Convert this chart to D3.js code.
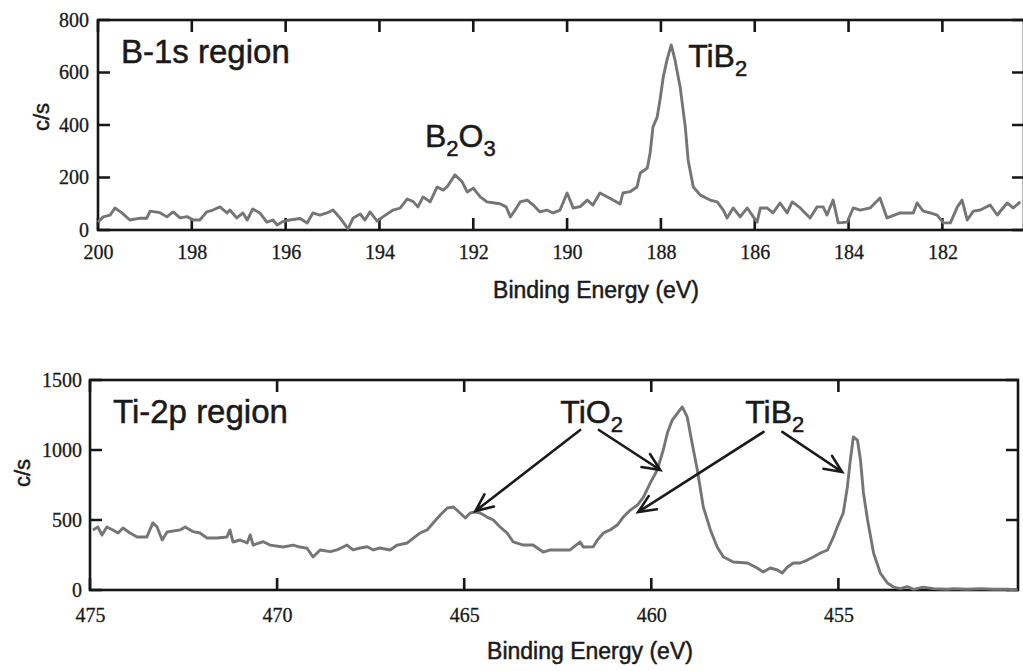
<!DOCTYPE html>
<html><head><meta charset="utf-8">
<script src="https://cdn.jsdelivr.net/npm/d3@7/dist/d3.min.js"></script>
<style>body{margin:0;background:#fff;overflow:hidden}</style>
</head><body>
<svg id="c" width="1023" height="671"></svg>
<script>
// ---------- DATA ----------
const b1sEnergy = [200.00,199.89,199.74,199.64,199.49,199.32,199.10,198.96,198.89,198.68,198.53,198.40,198.25,198.10,197.97,197.83,197.68,197.55,197.40,197.25,197.19,197.04,196.91,196.82,196.70,196.55,196.40,196.27,196.18,196.06,195.91,195.69,195.54,195.42,195.27,195.12,194.99,194.84,194.67,194.56,194.41,194.31,194.20,194.05,193.92,193.71,193.56,193.41,193.28,193.18,193.07,192.92,192.77,192.64,192.56,192.39,192.24,192.13,192.00,191.85,191.71,191.58,191.43,191.30,191.21,191.15,191.00,190.85,190.72,190.58,190.43,190.30,190.15,190.00,189.87,189.72,189.57,189.45,189.30,189.15,189.02,188.87,188.81,188.66,188.51,188.44,188.29,188.23,188.17,188.08,188.02,187.95,187.87,187.78,187.70,187.59,187.48,187.42,187.31,187.16,186.95,186.80,186.67,186.59,186.46,186.31,186.16,186.03,185.95,185.88,185.74,185.61,185.46,185.31,185.20,185.03,184.82,184.67,184.54,184.46,184.33,184.22,184.03,183.90,183.75,183.54,183.33,183.18,182.90,182.62,182.54,182.41,182.26,182.11,181.98,181.83,181.68,181.58,181.47,181.34,181.19,180.98,180.83,180.62,180.49,180.34];
const b1sCounts = [30,50,57,84,65,38,45,45,72,66,50,69,46,51,38,38,69,76,88,65,76,46,65,38,80,65,30,38,19,32,38,44,27,65,57,65,76,46,4,46,61,38,69,34,51,76,83,118,108,88,126,107,164,152,164,210,184,145,159,126,107,104,100,88,50,65,107,114,95,69,76,65,76,141,84,89,114,95,141,127,114,99,141,146,164,217,236,293,392,430,495,583,648,705,648,545,392,267,164,133,114,107,76,46,84,50,84,50,30,84,84,65,103,65,107,84,46,88,88,57,114,27,30,84,76,84,122,46,65,65,103,72,65,57,27,27,88,114,38,72,76,95,57,103,84,107];

const ti2pEnergy = [474.92,474.79,474.68,474.55,474.39,474.25,474.12,473.93,473.74,473.48,473.32,473.21,473.07,472.94,472.59,472.46,472.25,472.06,471.87,471.60,471.34,471.26,471.18,470.99,470.80,470.72,470.64,470.37,470.19,469.84,469.57,469.39,469.20,469.04,468.85,468.58,468.40,468.13,467.97,467.78,467.59,467.43,467.25,466.98,466.79,466.52,466.36,466.18,465.99,465.83,465.64,465.45,465.29,465.11,464.97,464.84,464.71,464.57,464.39,464.22,464.04,463.85,463.69,463.42,463.16,462.89,462.70,462.43,462.17,461.90,461.82,461.55,461.44,461.28,461.10,460.91,460.75,460.56,460.37,460.21,460.03,459.84,459.76,459.68,459.57,459.44,459.30,459.17,459.04,458.91,458.77,458.61,458.42,458.24,458.07,457.81,457.43,457.17,457.01,456.82,456.63,456.50,456.36,456.20,456.02,455.83,455.67,455.48,455.29,455.13,455.03,454.87,454.76,454.68,454.60,454.49,454.41,454.33,454.22,454.06,453.88,453.69,453.53,453.34,453.16,452.99,452.73,452.46,452.09,451.93,451.55,451.20,450.86,450.48,450.21];
const ti2pCounts = [429,450,393,450,429,407,443,407,379,379,479,452,357,414,429,450,417,407,371,371,379,429,343,357,336,393,321,345,321,307,321,307,298,236,286,274,286,321,286,300,309,286,300,286,321,336,371,407,429,479,536,586,593,550,514,550,557,550,521,500,450,407,343,321,321,271,286,286,286,343,307,309,357,407,429,464,521,571,607,664,764,857,929,1000,1121,1214,1264,1307,1236,1050,857,593,429,307,236,200,193,157,129,157,143,121,164,193,193,214,236,264,286,379,450,550,736,929,1093,1071,929,693,500,264,121,50,21,10,24,5,21,10,5,10,5,10,5,5,0];

const b1sXTicks = [200,198,196,194,192,190,188,186,184,182];
const b1sYTicks = [0,200,400,600,800];
const ti2pXTicks = [475,470,465,460,455];
const ti2pYTicks = [0,500,1000,1500];

// annotation arrows (data coords: [eV, c/s])
const ti2pArrowFrom = [[461.9,1143],[461.4,1143],[457.0,1129],[456.5,1129]];
const ti2pArrowTo   = [[464.7,564],[459.76,857],[460.35,557],[454.9,843]];

// ---------- DRAW ----------
const svg = d3.select("#c");
const lineColor = "#757575";
const axisColor = "#161616";
const serif = "'Liberation Serif','Times New Roman',serif";
const sans = "'Liberation Sans',Arial,sans-serif";

function styleText(sel){
  return sel.attr("fill","#1a1a1a").attr("stroke","#1a1a1a").attr("stroke-width",0.5);
}

function panel(o){
  const x = d3.scaleLinear().domain(o.xDomain).range([o.left,o.right]);
  const y = d3.scaleLinear().domain(o.yDomain).range([o.bottom,o.top]);
  const g = svg.append("g");
  const tl = 12;
  g.append("rect").attr("x",o.left).attr("y",o.top).attr("width",o.right-o.left).attr("height",o.bottom-o.top)
    .attr("fill","none").attr("stroke",axisColor).attr("stroke-width",2.6);
  const tp = d3.path();
  o.xTicks.forEach(v=>{
    tp.moveTo(x(v),o.bottom); tp.lineTo(x(v),o.bottom-tl);
    tp.moveTo(x(v),o.top); tp.lineTo(x(v),o.top+tl);
  });
  o.yTicks.forEach(v=>{
    tp.moveTo(o.left,y(v)); tp.lineTo(o.left+tl,y(v));
    tp.moveTo(o.right,y(v)); tp.lineTo(o.right-tl,y(v));
  });
  g.append("path").attr("class","ticks").attr("d",tp.toString()).attr("fill","none")
    .attr("stroke",axisColor).attr("stroke-width",2.6);
  const ax = g.append("g").attr("transform",`translate(0,${o.bottom})`)
    .call(d3.axisBottom(x).tickValues(o.xTicks).tickSize(0).tickPadding(o.xPad).tickFormat(d3.format("d")));
  const ay = g.append("g").attr("transform",`translate(${o.left},0)`)
    .call(d3.axisLeft(y).tickValues(o.yTicks).tickSize(0).tickPadding(o.yPad).tickFormat(d3.format("d")));
  [ax,ay].forEach(a=>{
    a.select(".domain").remove();
    a.selectAll(".tick line").remove();
    styleText(a.selectAll(".tick text")).style("font-family",serif).style("font-size","20px").attr("stroke-width",0.3);
  });
  const pts = o.energy.map((e,i)=>[e,o.counts[i]]);
  g.append("path").datum(pts)
    .attr("d",d3.line().x(d=>x(d[0])).y(d=>y(d[1])))
    .attr("fill","none").attr("stroke",lineColor).attr("stroke-width",2.9).attr("stroke-linejoin","round");
  styleText(g.append("text").attr("transform",`translate(${o.yTitleX},${(o.top+o.bottom)/2 - o.yTitleShift}) rotate(-90)`)
    .attr("text-anchor","middle").attr("dominant-baseline","central")
    .style("font-family",sans).style("font-size","22px")).text("c/s");
  styleText(g.append("text").attr("x",o.xTitleX).attr("y",o.xTitleY).attr("text-anchor","middle")
    .style("font-family",sans).style("font-size","23px")).text("Binding Energy (eV)");
  styleText(g.append("text").attr("x",o.left+o.regionDx).attr("y",o.regionY)
    .style("font-family",sans).style("font-size","33px")).text(o.region);
  return {x,y,g};
}

function chem(g,x,y,parts){
  const t = styleText(g.append("text").attr("x",x).attr("y",y)
    .style("font-family",sans).style("font-size","32px"));
  let shifted = false;
  parts.forEach(p=>{
    const s = t.append("tspan").text(p.t);
    if(p.sub){ s.attr("dy", shifted?0:9).style("font-size","22px"); shifted = true; }
    else { if(shifted) s.attr("dy",-9); shifted = false; }
  });
}

const panelB = panel({
  xDomain:[200,180.26], yDomain:[0,800], left:98, right:1024, top:20, bottom:230,
  energy:b1sEnergy, counts:b1sCounts, xTicks:b1sXTicks, yTicks:b1sYTicks,
  xPad:15, yPad:9, yTitleX:41, yTitleShift:8, xTitleX:596, xTitleY:298,
  region:"B-1s region", regionDx:23, regionY:63
});
chem(panelB.g, panelB.x(193.03), panelB.y(316), [{t:"B"},{t:"2",sub:true},{t:"O"},{t:"3",sub:true}]);
chem(panelB.g, panelB.x(187.42), panelB.y(621), [{t:"TiB"},{t:"2",sub:true}]);

const panelT = panel({
  xDomain:[475,450.2], yDomain:[0,1500], left:90, right:1018, top:380, bottom:590,
  energy:ti2pEnergy, counts:ti2pCounts, xTicks:ti2pXTicks, yTicks:ti2pYTicks,
  xPad:18, yPad:8, yTitleX:22, yTitleShift:12, xTitleX:590, xTitleY:659,
  region:"Ti-2p region", regionDx:23, regionY:423
});
chem(panelT.g, panelT.x(462.43), panelT.y(1193), [{t:"TiO"},{t:"2",sub:true}]);
chem(panelT.g, panelT.x(457.49), panelT.y(1193), [{t:"TiB"},{t:"2",sub:true}]);

ti2pArrowFrom.forEach((f,i)=>{
  const t = ti2pArrowTo[i];
  const x1=panelT.x(f[0]), y1=panelT.y(f[1]), x2=panelT.x(t[0]), y2=panelT.y(t[1]);
  const ang = Math.atan2(y1-y2, x1-x2);
  const L=19, a=0.42;
  const p = d3.path();
  p.moveTo(x1,y1); p.lineTo(x2,y2);
  p.moveTo(x2+L*Math.cos(ang+a), y2+L*Math.sin(ang+a)); p.lineTo(x2,y2);
  p.lineTo(x2+L*Math.cos(ang-a), y2+L*Math.sin(ang-a));
  panelT.g.append("path").attr("d",p.toString()).attr("fill","none")
    .attr("stroke","#1a1a1a").attr("stroke-width",2.6).attr("stroke-linecap","round");
});
</script>
</body></html>
